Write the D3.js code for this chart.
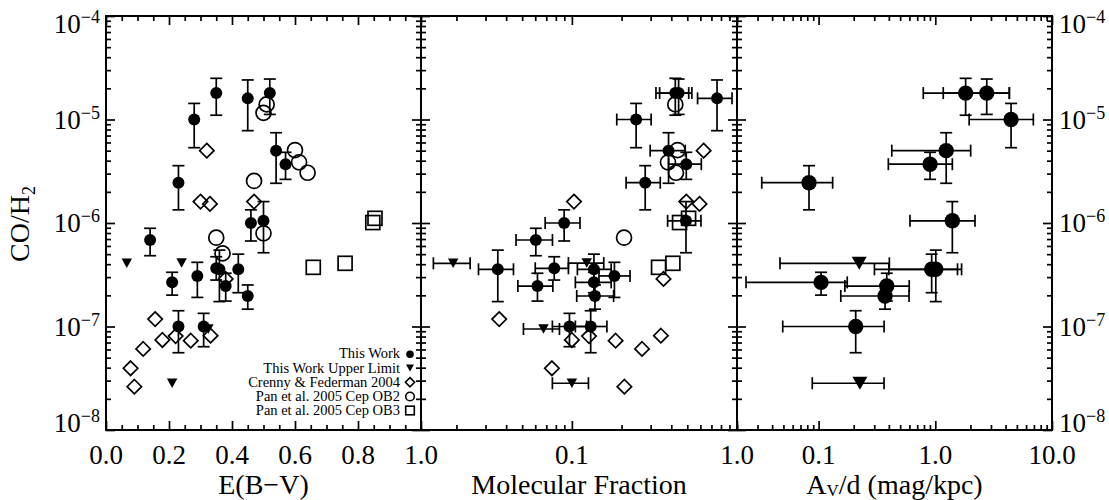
<!DOCTYPE html>
<html><head><meta charset="utf-8">
<script src="https://cdn.jsdelivr.net/npm/d3@7"></script>
<style>
body{margin:0;background:#fff}
svg{display:block}
</style>
</head><body>
<svg id="c" width="1109" height="500"></svg>
<script>
// ---------------- DATA ----------------
// This Work (detections): CO/H2 with errors, E(B-V), molecular fraction, Av/d
const twCO    = [1.8e-5,1.8e-5,1.6e-5,1.0e-5,5.0e-6,3.7e-6,2.45e-6,1.05e-6,1.0e-6,6.85e-7,3.57e-7,3.65e-7,3.57e-7,3.08e-7,2.67e-7,2.46e-7,1.97e-7,1.0e-7,1.0e-7];
const twCOhi  = [2.5e-5,2.46e-5,2.41e-5,1.43e-5,7.45e-6,4.82e-6,3.58e-6,1.61e-6,1.34e-6,8.89e-7,5.0e-7,4.72e-7,5.47e-7,4.17e-7,3.34e-7,3.27e-7,2.52e-7,1.42e-7,1.34e-7];
const twCOlo  = [1.1e-5,1.12e-5,7.8e-6,5.34e-6,2.42e-6,2.64e-6,1.34e-6,5.16e-7,6.7e-7,4.83e-7,2.12e-7,2.81e-7,1.74e-7,1.91e-7,2.01e-7,1.76e-7,1.47e-7,5.58e-8,6.38e-8];
const twEBV   = [0.35,0.52,0.45,0.28,0.54,0.57,0.23,0.50,0.46,0.14,0.42,0.35,0.36,0.29,0.21,0.38,0.45,0.23,0.31];
const twFmol  = [0.423,0.443,0.757,0.245,0.385,0.493,0.278,0.491,0.0898,0.0605,0.136,0.0782,0.0356,0.181,0.136,0.0619,0.138,0.130,0.0967];
const twFmolLo= [0.323,0.34,0.577,0.187,0.298,0.385,0.213,0.380,0.0689,0.0459,0.108,0.060,0.0272,0.146,0.105,0.0471,0.107,0.105,0.0762];
const twFmolHi= [0.51,0.533,0.933,0.302,0.486,0.608,0.343,0.605,0.112,0.0763,0.173,0.0953,0.0443,0.225,0.173,0.0767,0.179,0.163,0.123];
const twAvd   = [1.82,2.76,null,4.46,1.24,0.902,0.0828,1.40,null,null,0.931,null,1.01,null,0.105,0.384,0.371,0.208,null];
const twAvdLo = [0.789,1.17,null,1.95,0.424,0.396,0.0326,0.607,null,null,0.301,null,0.40,null,0.0239,0.168,0.155,0.0493,null];
const twAvdHi = [4.31,4.31,null,6.92,2.01,1.40,0.132,2.19,null,null,1.68,null,1.55,null,0.176,0.598,0.596,0.364,null];

// This Work upper limits
const ulCO     = [4.08e-7,4.1e-7,9.46e-8,2.83e-8];
const ulEBV    = [0.066,0.24,0.325,0.21];
const ulFmol   = [0.0191,0.123,0.0673,0.100];
const ulFmolLo = [0.0145,0.0953,0.0509,0.0762];
const ulFmolHi = [0.0242,0.156,0.0841,0.126];
const ulAvd    = [0.223,null,null,0.226];
const ulAvdLo  = [0.0467,null,null,0.0883];
const ulAvdHi  = [0.404,null,null,0.364];

// Crenny & Federman 2004
const cfCO   = [5.0e-6,1.61e-6,1.53e-6,1.61e-6,2.88e-7,1.18e-7,7.41e-8,6.07e-8,3.95e-8,2.62e-8,8.09e-8,7.29e-8,8.15e-8];
const cfEBV  = [0.32,0.30,0.33,0.47,0.38,0.156,0.179,0.118,0.078,0.090,0.221,0.269,0.332];
const cfFmol = [0.628,0.103,0.593,0.493,0.359,0.0363,0.100,0.266,0.0757,0.208,0.127,0.184,0.346];

// Pan et al. 2005 Cep OB2
const ob2CO   = [1.40e-5,1.16e-5,5.07e-6,3.86e-6,3.06e-6,2.55e-6,7.95e-7,7.21e-7,5.09e-7];
const ob2EBV  = [0.51,0.50,0.60,0.613,0.64,0.47,0.50,0.35,0.37];
const ob2Fmol = [0.423,null,0.437,0.382,0.427,null,null,0.207,null];

// Pan et al. 2005 Cep OB3
const ob3CO   = [1.11e-6,1.01e-6,3.73e-7,4.08e-7];
const ob3EBV  = [0.854,0.847,0.658,0.759];
const ob3Fmol = [0.509,0.449,0.335,0.409];

// Axis ticks / labels
const yTickVals = [1e-8,1e-7,1e-6,1e-5,1e-4];
const yTickExp  = ["\u22128","\u22127","\u22126","\u22125","\u22124"];
const ebvTicks  = [0,0.2,0.4,0.6,0.8,1.0];
const ebvLabels = ["0.0","0.2","0.4","0.6","0.8","1.0"];
const fmolTicks = [0.1,1.0];
const fmolLabels= ["0.1","1.0"];
const avdTicks  = [0.1,1.0,10.0];
const avdLabels = ["0.1","1.0","10.0"];
const legendLabels = ["This Work","This Work Upper Limit","Crenny & Federman 2004","Pan et al. 2005 Cep OB2","Pan et al. 2005 Cep OB3"];

// ---------------- CHART ----------------
const FONT = '"Liberation Serif", "Times New Roman", Tinos, serif';
const svg = d3.select('#c').attr('font-family', FONT);
const T = 16, B = 430;
const y  = d3.scaleLog().domain([1e-8,1e-4]).range([B,T]);
const xE = d3.scaleLinear().domain([0,1]).range([106,421]);
const xF = d3.scaleLog().domain([0.0122,1]).range([421,737]);
const xA = d3.scaleLog().domain([0.02,10]).range([737,1052]);
const LW = 1.7;

function styleAxis(g){
  g.select('.domain').remove();
  g.selectAll('.tick line').attr('stroke','#000').attr('stroke-width',LW);
  g.selectAll('.tick text').remove();
}
function frame(x, majors, minors){
  const [x0,x1] = x.range();
  const yMinor = y.ticks().filter(v => Math.abs(Math.log10(v) - Math.round(Math.log10(v))) > 1e-6);
  [[d3.axisBottom, B, majors, 9],[d3.axisBottom, B, minors, 5],
   [d3.axisTop, T, majors, 9],[d3.axisTop, T, minors, 5]].forEach(([ax,pos,vals,len])=>{
    svg.append('g').attr('transform',`translate(0,${pos})`)
      .call(ax(x).tickValues(vals).tickSizeInner(-len).tickSizeOuter(0)).call(styleAxis);
  });
  [[d3.axisLeft, x0, yTickVals, 9],[d3.axisLeft, x0, yMinor, 5],
   [d3.axisRight, x1, yTickVals, 9],[d3.axisRight, x1, yMinor, 5]].forEach(([ax,pos,vals,len])=>{
    svg.append('g').attr('transform',`translate(${pos},0)`)
      .call(ax(y).tickValues(vals).tickSizeInner(-len).tickSizeOuter(0)).call(styleAxis);
  });
  svg.append('rect').attr('x',x0).attr('y',T).attr('width',x1-x0).attr('height',B-T)
    .attr('fill','none').attr('stroke','#000').attr('stroke-width',2);
}
const isMajorLog = v => Math.abs(Math.log10(v) - Math.round(Math.log10(v))) < 1e-6;
frame(xE, ebvTicks, d3.range(0,1.0001,0.05).filter(v => Math.abs(v/0.2 - Math.round(v/0.2))>1e-6));
frame(xF, fmolTicks, xF.ticks().filter(v=>!isMajorLog(v)));
frame(xA, avdTicks, xA.ticks().filter(v=>!isMajorLog(v)));

const txt = sel => sel.attr('font-family', FONT).attr('fill','#000');

// x tick labels
function xLabels(x, vals, labs){
  svg.append('g').selectAll('text').data(vals).join('text').call(txt)
    .attr('x', d=>x(d)).attr('y', 464).attr('text-anchor','middle')
    .attr('font-size',27).text((d,i)=>labs[i]);
}
xLabels(xE, ebvTicks, ebvLabels);
xLabels(xF, fmolTicks, fmolLabels);
xLabels(xA, avdTicks, avdLabels);

// y tick labels, both sides
function yLabel(xpos, anchor){
  const g = svg.append('g');
  yTickVals.forEach((v,i)=>{
    let by = y(v) + 9;
    if (i === yTickVals.length-1) by = y(v) + 17;
    if (i === 0) by = y(v) + 2;
    const t = g.append('text').call(txt).attr('x',xpos).attr('y',by).attr('text-anchor',anchor).attr('font-size',27);
    t.append('tspan').text('10');
    t.append('tspan').attr('font-size',18).attr('dy',-10).text(yTickExp[i]);
  });
}
yLabel(100,'end');
yLabel(1059,'start');

// axis titles
svg.append('text').call(txt).attr('x',263.5).attr('y',494).attr('text-anchor','middle').attr('font-size',28).text('E(B\u2212V)');
svg.append('text').call(txt).attr('x',579).attr('y',494).attr('text-anchor','middle').attr('font-size',28).text('Molecular Fraction');
const at = svg.append('text').call(txt).attr('x',894.5).attr('y',494).attr('text-anchor','middle').attr('font-size',28);
at.append('tspan').text('A');
at.append('tspan').attr('font-size',17).attr('dy',2).text('V');
at.append('tspan').attr('dy',-2).text('/d (mag/kpc)');
const yt = svg.append('text').call(txt).attr('transform','translate(29,224) rotate(-90)').attr('text-anchor','middle').attr('font-size',28);
yt.append('tspan').text('CO/H');
yt.append('tspan').attr('font-size',18).attr('dy',6).text('2');

// ---------------- MARKS ----------------
const plot = svg.append('g').attr('stroke','#000').attr('stroke-width',LW);

function drawErr(pts, xS, cap){
  const g = plot.append('g');
  pts.forEach(p=>{
    const cx = xS(p.x), cy = y(p.y);
    if (p.ylo != null){
      g.append('line').attr('x1',cx).attr('x2',cx).attr('y1',y(p.ylo)).attr('y2',y(p.yhi));
      [p.ylo,p.yhi].forEach(v=>g.append('line').attr('x1',cx-cap).attr('x2',cx+cap).attr('y1',y(v)).attr('y2',y(v)));
    }
    if (p.xlo != null){
      g.append('line').attr('x1',xS(p.xlo)).attr('x2',xS(p.xhi)).attr('y1',cy).attr('y2',cy);
      [p.xlo,p.xhi].forEach(v=>g.append('line').attr('x1',xS(v)).attr('x2',xS(v)).attr('y1',cy-cap).attr('y2',cy+cap));
    }
  });
}
function filledCircles(pts,xS,r){
  plot.append('g').selectAll('circle').data(pts).join('circle')
    .attr('cx',d=>xS(d.x)).attr('cy',d=>y(d.y)).attr('r',r).attr('fill','#000').attr('stroke','none');
}
function openCircles(pts,xS,r){
  plot.append('g').selectAll('circle').data(pts).join('circle')
    .attr('cx',d=>xS(d.x)).attr('cy',d=>y(d.y)).attr('r',r).attr('fill','none');
}
function triPath(cx,cy,w,h){return `M${cx-w/2},${cy-h/2}L${cx+w/2},${cy-h/2}L${cx},${cy+h/2}Z`;}
function diaPath(cx,cy,s){return `M${cx},${cy-s}L${cx+s},${cy}L${cx},${cy+s}L${cx-s},${cy}Z`;}
function triangles(pts,xS,w,h){
  plot.append('g').selectAll('path').data(pts).join('path')
    .attr('d',d=>triPath(xS(d.x),y(d.y),w,h)).attr('fill','#000').attr('stroke','none');
}
function diamonds(pts,xS,s){
  plot.append('g').selectAll('path').data(pts).join('path')
    .attr('d',d=>diaPath(xS(d.x),y(d.y),s)).attr('fill','none');
}
function squares(pts,xS,s){
  plot.append('g').selectAll('rect').data(pts).join('rect')
    .attr('x',d=>xS(d.x)-s).attr('y',d=>y(d.y)-s).attr('width',2*s).attr('height',2*s).attr('fill','none');
}
const pick = (xs, ys, extra) => xs.map((x,i)=>Object.assign({x:x, y:ys[i]}, extra? extra(i):{})).filter(p=>p.x!=null);

// Left panel: E(B-V)
const twL = pick(twEBV, twCO, i=>({ylo:twCOlo[i], yhi:twCOhi[i]}));
drawErr(twL, xE, 6);
filledCircles(twL, xE, 6);
triangles(pick(ulEBV, ulCO), xE, 10.5, 9.5);
diamonds(pick(cfEBV, cfCO), xE, 7.2);
openCircles(pick(ob2EBV, ob2CO), xE, 7.5);
squares(pick(ob3EBV, ob3CO), xE, 7);

// Middle panel: molecular fraction
const twM = pick(twFmol, twCO, i=>({ylo:twCOlo[i], yhi:twCOhi[i], xlo:twFmolLo[i], xhi:twFmolHi[i]}));
const ulM = pick(ulFmol, ulCO, i=>({xlo:ulFmolLo[i], xhi:ulFmolHi[i]}));
drawErr(twM, xF, 6);
drawErr(ulM, xF, 6);
filledCircles(twM, xF, 6);
triangles(ulM, xF, 10.5, 9.5);
diamonds(pick(cfFmol, cfCO), xF, 7.2);
openCircles(pick(ob2Fmol, ob2CO), xF, 7.5);
squares(pick(ob3Fmol, ob3CO), xF, 7);

// Right panel: Av/d
const twR = pick(twAvd, twCO, i=>({ylo:twCOlo[i], yhi:twCOhi[i], xlo:twAvdLo[i], xhi:twAvdHi[i]}));
const ulR = pick(ulAvd, ulCO, i=>({xlo:ulAvdLo[i], xhi:ulAvdHi[i]}));
drawErr(twR, xA, 6);
drawErr(ulR, xA, 6);
filledCircles(twR, xA, 7.7);
triangles(ulR, xA, 15, 13);

// ---------------- LEGEND ----------------
const legY = [358.3, 372.5, 386.7, 401, 415];
svg.append('g').selectAll('text').data(legendLabels).join('text').call(txt)
  .attr('x',400).attr('y',(d,i)=>legY[i]).attr('text-anchor','end').attr('font-size',14.5).text(d=>d);
const lg = svg.append('g').attr('stroke','#000').attr('stroke-width',1.6);
const sx = 410;
lg.append('circle').attr('cx',sx).attr('cy',legY[0]-4).attr('r',3.8).attr('fill','#000').attr('stroke','none');
lg.append('path').attr('d',triPath(sx,legY[1]-4.5,8,7)).attr('fill','#000').attr('stroke','none');
lg.append('path').attr('d',diaPath(sx,legY[2]-4.5,4.6)).attr('fill','none');
lg.append('circle').attr('cx',sx).attr('cy',legY[3]-4.5).attr('r',4.3).attr('fill','none');
lg.append('rect').attr('x',sx-4.3).attr('y',legY[4]-8.8).attr('width',8.6).attr('height',8.6).attr('fill','none');
</script>
</body></html>
